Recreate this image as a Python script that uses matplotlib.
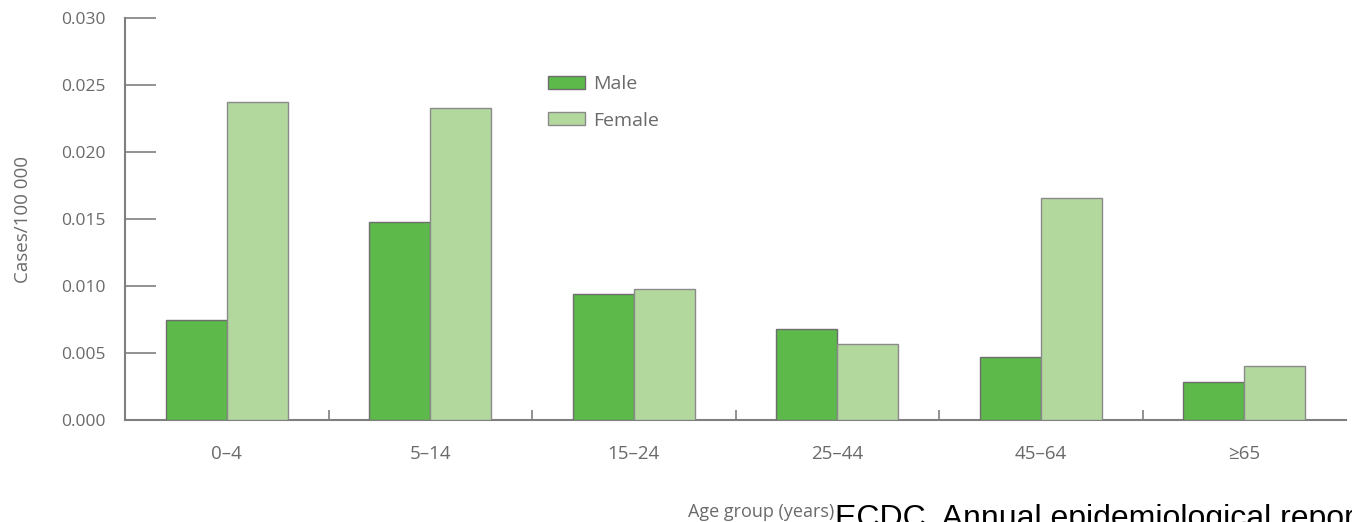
import numpy as np
import matplotlib.pyplot as plt
from matplotlib.patches import Patch

plt.rcParams['font.family'] = ['Open Sans', 'DejaVu Sans']

grupos = ["0\u20134", "5\u201314", "15\u201324", "25\u201344", "45\u201364", "\u226565"]
male = [0.0075, 0.0148, 0.0094, 0.0068, 0.0047, 0.0028]
female = [0.0237, 0.0233, 0.0098, 0.0057, 0.0166, 0.0040]

col_male = "#5cb94a"
col_female = "#b2d89e"
gris = "#7f7f7f"
gris_txt = "#6a6a6a"

fig = plt.figure(figsize=(13.52, 5.22), dpi=100)
ax = fig.add_axes([0.0925, 0.1954, 0.9031, 0.7701])

x = np.arange(len(grupos))
w = 0.30
ax.bar(x - w / 2, male, w, color=col_male, edgecolor="#6e6e6e", linewidth=1.0, zorder=3)
ax.bar(x + w / 2, female, w, color=col_female, edgecolor="#8a8a8a", linewidth=1.0, zorder=3)

ax.set_xlim(-0.5, len(grupos) - 0.5)
ax.set_ylim(0, 0.030)
ticks_y = np.arange(0, 0.0301, 0.005)
ax.set_yticks(ticks_y)
ax.set_yticklabels([f"{v:.3f}" for v in ticks_y])
ax.set_xticks(x)
ax.set_xticklabels(grupos)
ax.set_xticks(np.arange(0.5, len(grupos) - 1, 1.0), minor=True)

ax.tick_params(axis="y", direction="in", length=22, width=1.2, color=gris,
               labelcolor=gris_txt, labelsize=12.5, pad=14)
ax.tick_params(axis="x", which="major", length=0, labelcolor=gris_txt,
               labelsize=13.5, pad=18)
ax.tick_params(axis="x", which="minor", direction="in", length=7, width=1.2, color=gris)

for s in ["top", "right"]:
    ax.spines[s].set_visible(False)
for s in ["left", "bottom"]:
    ax.spines[s].set_color(gris)
    ax.spines[s].set_linewidth(1.5)

ax.set_ylabel("Cases/100 000", color=gris_txt, fontsize=13.5)
ax.yaxis.set_label_coords(-0.076, 0.5)

handles = [Patch(facecolor=col_male, edgecolor="#6e6e6e", label="Male"),
           Patch(facecolor=col_female, edgecolor="#8a8a8a", label="Female")]
leg = fig.legend(handles=handles, loc="upper left", bbox_to_anchor=(0.4053, 0.856),
                 frameon=False, fontsize=14, handlelength=1.9, handleheight=0.67,
                 labelspacing=0.95, handletextpad=0.4, borderpad=0, borderaxespad=0)
for t in leg.get_texts():
    t.set_color(gris_txt)

fig.text(0.617, 0.010, "Age group (years)", ha="right", va="baseline",
         color=gris_txt, fontsize=13)
# la fuente aparece recortada en el borde inferior/derecho, igual que en el original
fig.text(0.6175, -0.01, "ECDC. Annual epidemiological report 2014", ha="left",
         va="baseline", color="black", fontsize=23, family="Liberation Sans")

fig.savefig("out.png", dpi=100)
